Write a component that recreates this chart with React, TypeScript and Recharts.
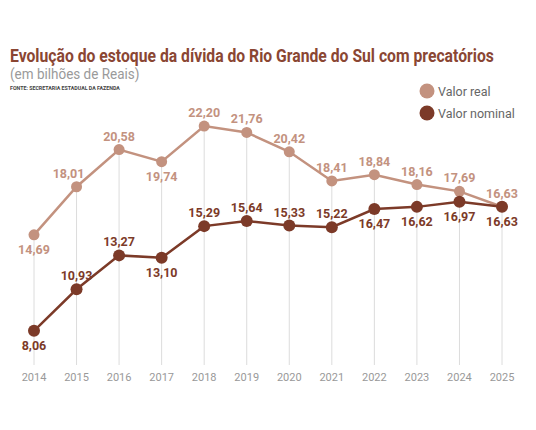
import { LineChart, Line, XAxis, YAxis, CartesianGrid, LabelList } from "recharts"

const years = ["2014", "2015", "2016", "2017", "2018", "2019", "2020", "2021", "2022", "2023", "2024", "2025"]
const valorReal = [14.69, 18.01, 20.58, 19.74, 22.2, 21.76, 20.42, 18.41, 18.84, 18.16, 17.69, 16.63]
const valorNominal = [8.06, 10.93, 13.27, 13.1, 15.29, 15.64, 15.33, 15.22, 16.47, 16.62, 16.97, 16.63]

const data = years.map((year, i) => ({ year, real: valorReal[i], nominal: valorNominal[i] }))

// label placement (which points get their value written below the dot)
const realBelow = ["2014", "2017"]
const nominalBelow = ["2014", "2017", "2022", "2023", "2024", "2025"]

const REAL = "#c3927f"
const NOMINAL = "#7c3a28"
const W = 536
const H = 430
const MARGIN = { top: 100, right: 34, left: 34, bottom: 45 }
const XAXIS_H = 20
const PLOT_BOTTOM = H - MARGIN.bottom - XAXIS_H

const fmt = (v: number) => v.toFixed(2).replace(".", ",")

function makeLabel(color: string, below: string[]) {
  return (props: any) => {
    const { x, y, value, index } = props
    const isBelow = below.includes(years[index])
    // 2015 real label sits a little to the left of its dot
    const dx = color === REAL && years[index] === "2015" ? -8 : 0
    return (
      <text
        x={x + dx}
        y={isBelow ? y + 19 : y - 9}
        textAnchor="middle"
        fill={color}
        fontSize={12.5}
        fontWeight={700}
        fontFamily="Roboto, sans-serif"
      >
        {fmt(value)}
      </text>
    )
  }
}

function RealDot(props: any) {
  const { cx, cy, index } = props
  return (
    <g key={`rd-${index}`}>
      <line x1={cx} x2={cx} y1={cy} y2={PLOT_BOTTOM} stroke="#dcdcdc" strokeWidth={1} />
      <circle cx={cx} cy={cy} r={5.5} fill={REAL} />
    </g>
  )
}

export default function App() {
  return (
    <div style={{ position: "absolute", left: 0, top: 0, width: W, height: H, background: "#fff" }}>
      <LineChart width={W} height={H} data={data} margin={MARGIN}>
        <CartesianGrid vertical={false} horizontal={false} />
        <XAxis
          dataKey="year"
          height={XAXIS_H}
          axisLine={false}
          tickLine={false}
          tick={{ fill: "#999", fontSize: 11, fontFamily: "Roboto, sans-serif" }}
        />
        <YAxis hide domain={[5.7, 24]} />
        <Line
          dataKey="real"
          stroke={REAL}
          strokeWidth={2.5}
          dot={RealDot}
          activeDot={false}
          isAnimationActive={false}
        >
          <LabelList dataKey="real" content={makeLabel(REAL, realBelow)} />
        </Line>
        <Line
          dataKey="nominal"
          stroke={NOMINAL}
          strokeWidth={2.5}
          dot={{ r: 6, fill: NOMINAL, stroke: "none" }}
          activeDot={false}
          isAnimationActive={false}
        >
          <LabelList dataKey="nominal" content={makeLabel(NOMINAL, nominalBelow)} />
        </Line>
      </LineChart>
      <svg width={W} height={H} style={{ position: "absolute", left: 0, top: 0, pointerEvents: "none" }}>
        <text
          transform="translate(10,62) scale(0.85,1)"
          fontSize={18.5}
          fontWeight={700}
          fill="#8a4633"
          fontFamily="Roboto, sans-serif"
        >
          Evolução do estoque da dívida do Rio Grande do Sul com precatórios
        </text>
        <text
          transform="translate(10,79) scale(0.9,1)"
          fontSize={15}
          fill="#9a9a9a"
          fontFamily="Roboto, sans-serif"
        >
          (em bilhões de Reais)
        </text>
        <text
          transform="translate(10,90) scale(0.88,1)"
          fontSize={6}
          fontWeight={700}
          fill="#444"
          fontFamily="Roboto, sans-serif"
        >
          FONTE: SECRETARIA ESTADUAL DA FAZENDA
        </text>
        <circle cx={427} cy={91} r={7.5} fill={REAL} />
        <text x={438} y={95.5} fontSize={12.5} fill="#666" fontFamily="Roboto, sans-serif">
          Valor real
        </text>
        <circle cx={427} cy={113} r={7.5} fill={NOMINAL} />
        <text x={438} y={117.5} fontSize={12.5} fill="#666" fontFamily="Roboto, sans-serif">
          Valor nominal
        </text>
      </svg>
    </div>
  )
}
